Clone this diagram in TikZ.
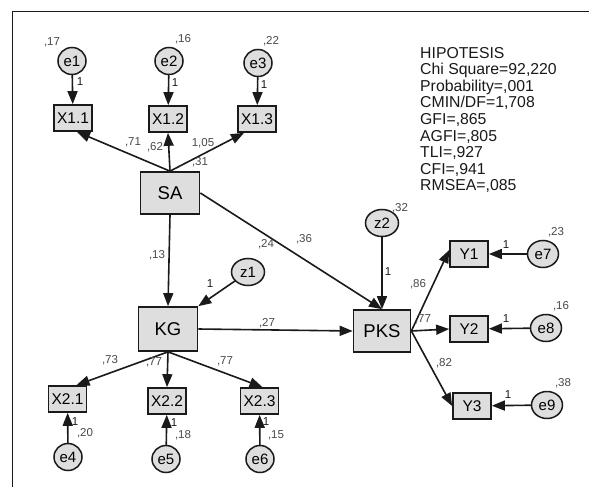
\documentclass[tikz,border=0pt]{standalone}
\usepackage{fontspec}
\setmainfont{Liberation Sans}
\usetikzlibrary{shapes.geometric,arrows.meta}
\definecolor{boxfill}{HTML}{DEDEDE}
\definecolor{lbl}{HTML}{4A4A4A}
\definecolor{ink}{HTML}{1A1A1A}
\begin{document}
\begin{tikzpicture}[x=1pt,y=-1pt,
 obs/.style={draw=ink, fill=boxfill, line width=1.7pt, inner sep=0pt, minimum width=38pt, minimum height=26pt, font=\fontsize{15.5}{17}\selectfont},
 big/.style={obs, minimum width=59pt, minimum height=42pt, font=\fontsize{18.5}{20}\selectfont},
 err/.style={ellipse, draw=ink, fill=boxfill, line width=1.5pt, inner sep=0pt, minimum width=28pt, minimum height=27pt, font=\fontsize{15}{16}\selectfont},
 dist/.style={err, minimum width=33pt},
 lab/.style={text=lbl, inner sep=0pt, font=\fontsize{11.5}{12}\selectfont},
 one/.style={text=ink, inner sep=0pt, font=\fontsize{11.5}{12}\selectfont},
 fit/.style={anchor=base west, inner sep=0pt, text=ink, font=\fontsize{15.8}{17}\selectfont},
 arr/.style={draw=ink, line width=1.6pt, -{Triangle[length=13pt,width=10pt]}}
]
\useasboundingbox (0,0) rectangle (589,487);
\fill[white] (0,0) rectangle (589,487);
\draw[ink, line width=1.5pt] (12.3,487) -- (12.3,11.7) -- (589,11.7);

% fit statistics
\node[fit] (h1) at (420,58.3) {HIPOTESIS};
\node[fit] (h2) at (420,74.85) {Chi Square=92,220};
\node[fit] (h3) at (420,91.4) {Probability=,001};
\node[fit] (h4) at (420,107.95) {CMIN/DF=1,708};
\node[fit] (h5) at (420,124.5) {GFI=,865};
\node[fit] (h6) at (420,141.05) {AGFI=,805};
\node[fit] (h7) at (420,157.6) {TLI=,927};
\node[fit] (h8) at (420,174.15) {CFI=,941};
\node[fit] (h9) at (420,190.7) {RMSEA=,085};

% error terms
\node[err] (e1) at (72,61) {e1};
\node[err] (e2) at (169,61) {e2};
\node[err] (e3) at (258,63) {e3};
\node[err] (e4) at (68,457) {e4};
\node[err] (e5) at (166,459) {e5};
\node[err] (e6) at (260,459) {e6};
\node[err, minimum width=31pt] (e7) at (543,254) {e7};
\node[err, minimum width=31pt] (e8) at (546,328) {e8};
\node[err, minimum width=31pt] (e9) at (547,405) {e9};
\node[dist] (z1) at (248,272) {z1};
\node[dist] (z2) at (382,223) {z2};

% indicators
\node[obs] (X11) at (73,118) {X1.1};
\node[obs] (X12) at (168,119) {X1.2};
\node[obs] (X13) at (257,119) {X1.3};
\node[obs] (X21) at (67.5,399) {X2.1};
\node[obs] (X22) at (167,401) {X2.2};
\node[obs] (X23) at (259.5,401) {X2.3};
\node[obs] (Y1) at (469,254) {Y1};
\node[obs] (Y2) at (469,329) {Y2};
\node[obs] (Y3) at (472,406) {Y3};

% constructs
\node[big] (SA) at (170,193) {SA};
\node[big, minimum height=44pt] (KG) at (168,329) {KG};
\node[big, minimum width=57pt] (PKS) at (382,331) {PKS};

% connectors
\draw[arr] (e1) -- (X11);
\draw[arr] (e2) -- (X12);
\draw[arr] (e3) -- (X13);
\draw[arr] (SA.north) -- ([xshift=4pt]X11.south);
\draw[arr] (SA.north) -- (X12.south);
\draw[arr] (SA.north) -- ([xshift=-13pt]X13.south);
\draw[arr] (SA.south) -- (KG.north);
\draw[arr] (SA.east) -- (PKS.north);
\draw[arr] (z1) -- (KG.north east);
\draw[arr] (z2) -- (PKS.north);
\draw[arr] (KG.east) -- (PKS.west);
\draw[arr] (KG.south) -- ([xshift=9pt]X21.north);
\draw[arr] (KG.south) -- (X22.north);
\draw[arr] (KG.south) -- ([xshift=3pt]X23.north);
\draw[arr] (e4) -- (X21);
\draw[arr] (e5) -- (X22);
\draw[arr] (e6) -- (X23);
\draw[arr] (PKS.east) -- ([yshift=4pt]Y1.west);
\draw[arr] (PKS.east) -- (Y2.west);
\draw[arr] (PKS.east) -- (Y3.west);
\draw[arr] (e7) -- (Y1);
\draw[arr] (e8) -- (Y2);
\draw[arr] (e9) -- (Y3);

% labels
\node[lab] (l1) at (52,42) {,17};
\node[lab] (l2) at (183,39) {,16};
\node[lab] (l3) at (271,41) {,22};
\node[one] (o1) at (80,82) {1};
\node[one] (o2) at (175,83) {1};
\node[one] (o3) at (264,85) {1};
\node[lab] (l4) at (133,142) {,71};
\node[lab] (l5) at (155,147) {,62};
\node[lab] (l6) at (203,143) {1,05};
\node[lab] (l7) at (200,162) {,31};
\node[lab] (l8) at (157,255) {,13};
\node[lab] (l9) at (266,244) {,24};
\node[one] (o4) at (210,284) {1};
\node[lab] (l10) at (304,239) {,36};
\node[lab] (l11) at (400,208) {,32};
\node[one] (o5) at (388,272) {1};
\node[lab] (l12) at (267,323) {,27};
\node[lab] (l13) at (418,284) {,86};
\node[lab] (l14) at (423,319) {,77};
\node[lab] (l15) at (444,363) {,82};
\node[one] (o6) at (506,245) {1};
\node[one] (o7) at (506,319) {1};
\node[one] (o8) at (508,395) {1};
\node[lab] (l16) at (556,232) {,23};
\node[lab] (l17) at (561,306) {,16};
\node[lab] (l18) at (563,383) {,38};
\node[lab] (l19) at (110,360) {,73};
\node[lab] (l20) at (154,362) {,77};
\node[lab] (l21) at (225,361) {,77};
\node[one] (o9) at (75,422) {1};
\node[lab] (l22) at (85,433) {,20};
\node[one] (o10) at (174,423) {1};
\node[lab] (l23) at (183,435) {,18};
\node[one] (o11) at (266,422) {1};
\node[lab] (l24) at (276,435) {,15};
\end{tikzpicture}
\end{document}
